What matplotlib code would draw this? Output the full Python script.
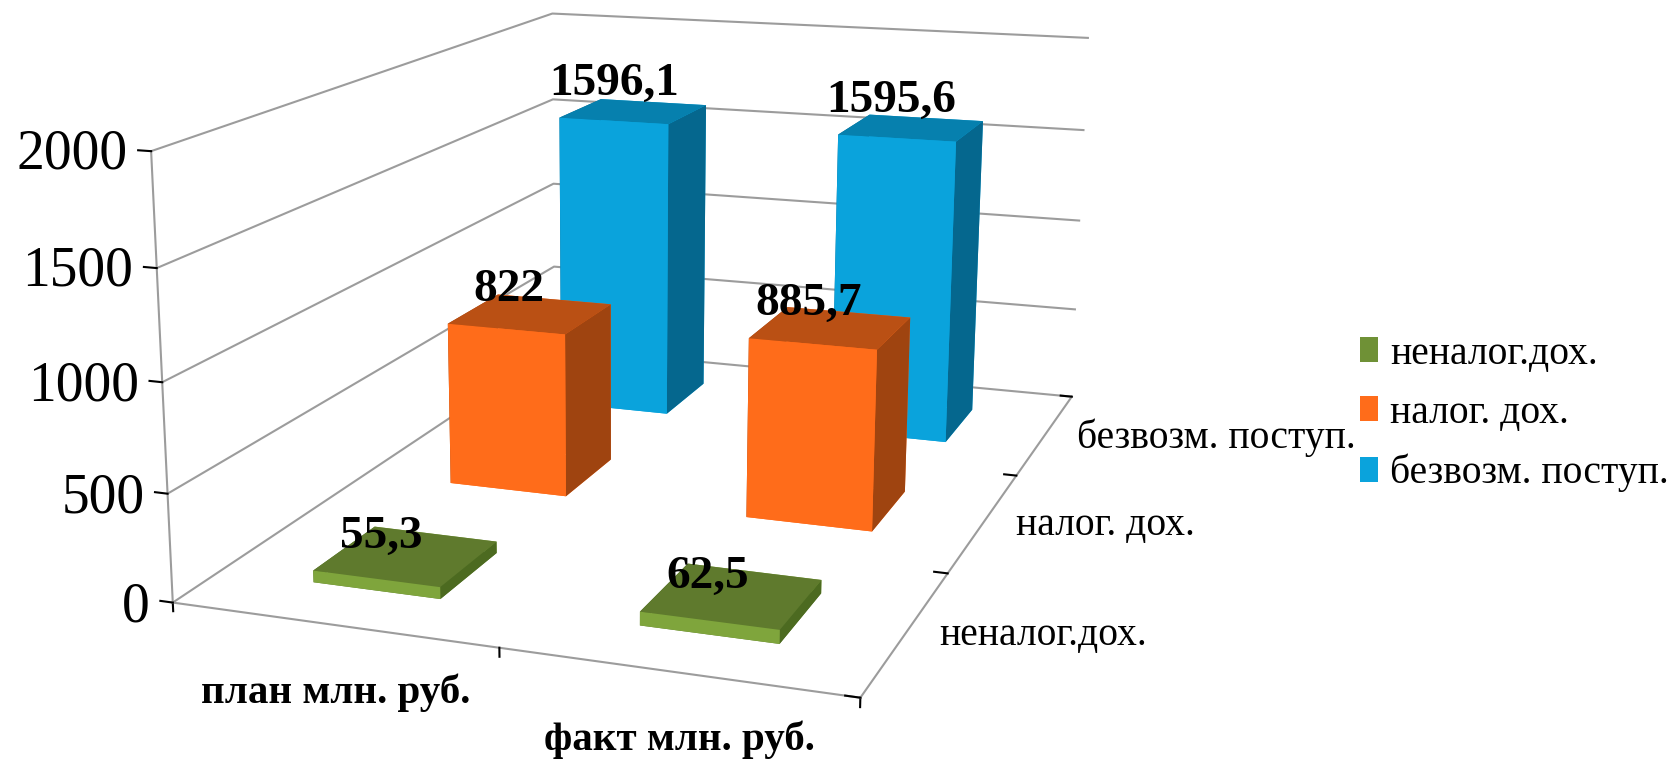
import numpy as np
import matplotlib
matplotlib.use("Agg")
import matplotlib.pyplot as plt
from matplotlib.patches import Patch
from mpl_toolkits.mplot3d import Axes3D  # noqa

plt.rcParams['font.family'] = ['Liberation Serif', 'DejaVu Serif']

# ---- data ----
periods = ['план млн. руб.', 'факт млн. руб.']
categories = ['неналог.дох.', 'налог. дох.', 'безвозм. поступ.']
nonnalog = [55.3, 62.5]
nalog = [822, 885.7]
bezvozm = [1596.1, 1595.6]
nonnalog_text = ['55,3', '62,5']
nalog_text = ['822', '885,7']
bezvozm_text = ['1596,1', '1595,6']
z_ticks = [0, 500, 1000, 1500, 2000]

# face colours: bottom, top, front, back, left, right
GREEN = ['#5E7B2E', '#5F7A2D', '#7FA53C', '#7FA53C', '#4C6A20', '#4C6A20']
ORANGE = ['#FF6C1A', '#BA5014', '#FF6C1A', '#FF6C1A', '#9F4410', '#9F4410']
BLUE = ['#0AA3DC', '#0680AE', '#0AA3DC', '#0AA3DC', '#05678E', '#05678E']
GREY = '#9C9C9C'

W, H = 1672, 760
S = W / 1568
fig = plt.figure(figsize=(W / 100, H / 100), dpi=100)
ax = fig.add_axes([0, 0, 1, 1], projection='3d')
ax.apply_aspect = lambda position=None: None
ax.set_xlim(0, 2)
ax.set_ylim(0, 3)
ax.set_zlim(0, 2000)

# Perspective calibration of the chart frame: (x, y, z) -> pixel
frame = [((0, 0, 0), (162, 566)), ((2, 0, 0), (803, 655)), ((2, 3, 0), (1003, 373)),
         ((0, 3, 2000), (518, 12)), ((2, 3, 2000), (1021, 35)), ((0, 0, 2000), (142, 143)),
         ((1, 0, 0), (468, 606)), ((2, 2, 0), (955, 445)), ((2, 1, 0), (893, 537)),
         ((0, 0, 1000), (152, 358)), ((2, 3, 1000), (1013, 208))]
rows = []
for (x, y, z), (u, v) in frame:
    p = [x, y, z / 1000, 1]
    u, v = u * S / 1000, (H - v * S) / 1000
    rows.append(p + [0, 0, 0, 0] + [-u * c for c in p])
    rows.append([0, 0, 0, 0] + p + [-v * c for c in p])
Pfit = np.linalg.svd(np.array(rows, float))[2][-1].reshape(3, 4)
Pfit = Pfit @ np.diag([1, 1, 1 / 1000, 1])
if (Pfit[2] @ [1, 1.5, 1000, 1]) < 0:
    Pfit = -Pfit
Pfit = np.diag([1000, 1000, 1]) @ Pfit


def get_proj():
    A = ax.transData.inverted().get_matrix()
    Q = A @ Pfit
    return np.array([Q[0], Q[1], [0, 0, 0, -1], Q[2]])


ax.get_proj = get_proj


def label(x, y, z, s, dx=0, dy=0, **kw):
    """Real text placed at a data point through the chart projection, offset in pixels."""
    q = Pfit @ [x, y, z, 1]
    ax.text2D((q[0] / q[2] + dx) / W, (q[1] / q[2] + dy) / H, s,
              transform=fig.transFigure, zorder=1000, **kw)


BAR_W = 0.40
BAR_D = 0.42
x_centres = [0.5, 1.5]
y_centres = [0.5, 1.5, 2.5]
series = [(nonnalog, nonnalog_text, GREEN, (-25, 19)),
          (nalog, nalog_text, ORANGE, (-22, 24)),
          (bezvozm, bezvozm_text, BLUE, (-20, 27))]
for j, (vals, txts, cols, off) in enumerate(series):
    for i, v in enumerate(vals):
        ax.bar3d(x_centres[i] - BAR_W / 2, y_centres[j] - BAR_D / 2, 0, BAR_W, BAR_D, v,
                 color=cols, shade=False, linewidth=0)
        label(x_centres[i], y_centres[j], v, txts[i], dx=off[0], dy=off[1], ha='center',
              va='center', fontsize=34, fontweight='bold', color='black')

ax.set_xlim(0, 2)
ax.set_ylim(0, 3)
ax.set_zlim(0, 2000)
ax.set_xticks([0, 1, 2])
ax.set_yticks([0, 1, 2, 3])
ax.set_zticks(z_ticks)
ax.set_xticklabels([])
ax.set_yticklabels([])
ax.tick_params(axis='z', labelsize=40, pad=1)
ax.zaxis._axinfo['juggled'] = (1, 2, 0)
for lab in ax.get_zticklabels():
    lab.set_ha('right')
    lab.set_va('center')
for a in (ax.xaxis, ax.yaxis, ax.zaxis):
    a.set_pane_color((1, 1, 1, 0))
    a.pane.set_edgecolor((1, 1, 1, 0))
    a.line.set_color(GREY)
    a.line.set_linewidth(1.5)
    a._axinfo['tick']['color'] = GREY
    a._axinfo['tick']['linewidth'] = {True: 1.5, False: 1.5}
    a._axinfo['tick']['inward_factor'] = 0
    a._axinfo['tick']['outward_factor'] = 0.25
ax.xaxis._get_tickdir = lambda pos: 2
ax.xaxis._axinfo['grid'].update(linewidth=0)
ax.yaxis._axinfo['grid'].update(linewidth=0)
ax.zaxis._axinfo['grid'].update(color=GREY, linewidth=1.5)

for i, name in enumerate(periods):
    label(x_centres[i], 0, 0, name, dx=4, dy=-68, ha='center', va='center', fontsize=29.5,
          fontweight='bold')
for j, name in enumerate(categories):
    label(2, y_centres[j], 0, name, dx=32, dy=-4, ha='left', va='center', fontsize=28.5)

handles = [Patch(facecolor='#6F9136', label=categories[0]),
           Patch(facecolor='#FF6C1A', label=categories[1]),
           Patch(facecolor='#0AA3DC', label=categories[2])]
ax.legend(handles=handles, loc='center left', bbox_to_anchor=(1360 / W, 1 - 414 / H),
          bbox_transform=fig.transFigure, frameon=False, fontsize=28.5, handlelength=0.46,
          handleheight=0.6, handletextpad=0.3, labelspacing=0.56, borderpad=0, borderaxespad=0)

fig.savefig('out.png', dpi=100)
